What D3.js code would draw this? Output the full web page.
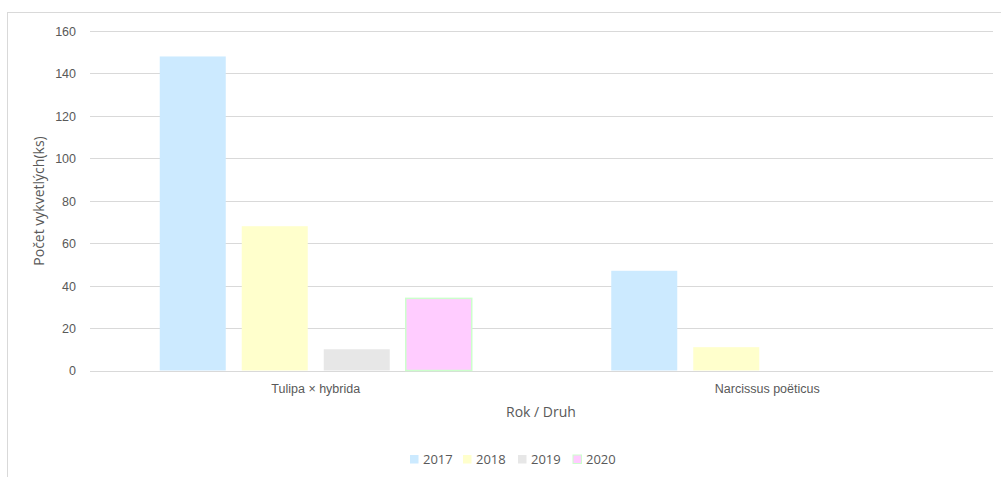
<!DOCTYPE html>
<html>
<head>
<meta charset="utf-8">
<script src="https://cdn.jsdelivr.net/npm/d3@7/dist/d3.min.js"></script>
<style>
  html, body { margin: 0; padding: 0; background: #fff; }
  svg { display: block; font-family: "Open Sans", "Liberation Sans", sans-serif; }
</style>
</head>
<body>
<svg id="chart" width="1001" height="477"></svg>
<script>
// Počet vykvetlých květin podle druhu a roku
const categories = ["Tulipa × hybrida", "Narcissus poëticus"];
const years = ["2017", "2018", "2019", "2020"];
const values2017 = [148, 47];
const values2018 = [68, 11];
const values2019 = [10, 0];
const values2020 = [34, 0];
const yTicks = [0, 20, 40, 60, 80, 100, 120, 140, 160];

const seriesValues = [values2017, values2018, values2019, values2020];
const fills = ["#cceaff", "#ffffcc", "#e7e7e7", "#ffccff"];
const strokes = ["none", "none", "none", "#ccffcc"];

const svg = d3.select("#chart");
const plot = { left: 90, right: 993, top: 31, bottom: 370.5 };

// chart frame
svg.append("rect")
  .attr("x", 7.5).attr("y", 12.5)
  .attr("width", 1000).attr("height", 470)
  .attr("fill", "#fff").attr("stroke", "#d9d9d9").attr("stroke-width", 1);

const y = d3.scaleLinear().domain([0, 160]).range([plot.bottom, plot.top]);
const x0 = d3.scaleBand().domain(categories).range([plot.left, plot.right]).padding(0);
const groupPad = 69.75;
const x1 = d3.scaleBand().domain(years)
  .range([groupPad, x0.bandwidth() - groupPad])
  .paddingInner(0.195).paddingOuter(0);

// gridlines
svg.append("g")
  .selectAll("line").data(yTicks).join("line")
  .attr("x1", plot.left).attr("x2", plot.right)
  .attr("y1", d => Math.round(y(d)) + 0.5).attr("y2", d => Math.round(y(d)) + 0.5)
  .attr("stroke", "#d9d9d9").attr("stroke-width", 1);

// y tick labels
const yAxis = d3.axisLeft(y).tickValues(yTicks).tickSize(0).tickPadding(0);
const yg = svg.append("g").attr("transform", "translate(76,0)").call(yAxis);
yg.select(".domain").remove();
yg.selectAll("text").attr("fill", "#595959").attr("font-size", 12.5)
  .attr("dy", "0.35em");

// bars
const groups = svg.append("g").selectAll("g").data(categories).join("g")
  .attr("transform", d => `translate(${x0(d)},0)`);
groups.selectAll("rect")
  .data((c, ci) => years.map((yr, si) => ({ yr, si, v: seriesValues[si][ci] })).filter(d => d.v > 0))
  .join("rect")
  .attr("x", d => x1(d.yr))
  .attr("y", d => y(d.v))
  .attr("width", x1.bandwidth())
  .attr("height", d => y(0) - y(d.v))
  .attr("fill", d => fills[d.si])
  .attr("stroke", d => strokes[d.si])
  .attr("stroke-width", 1.5);

// x category labels
const xAxis = d3.axisBottom(x0).tickSize(0).tickPadding(0);
const xg = svg.append("g").attr("transform", `translate(0,384)`).call(xAxis);
xg.select(".domain").remove();
xg.selectAll("text").attr("fill", "#595959").attr("font-size", 12.5).attr("dy", "0.71em");

// axis titles
svg.append("text")
  .attr("x", 541).attr("y", 417)
  .attr("text-anchor", "middle").attr("font-size", 14).attr("fill", "#595959")
  .text("Rok / Druh");
svg.append("text")
  .attr("transform", "translate(44,201) rotate(-90)")
  .attr("text-anchor", "middle").attr("font-size", 14).attr("fill", "#595959")
  .text("Počet vykvetlých(ks)");

// legend
const legendX = [410, 463, 518, 573];
const legend = svg.append("g").selectAll("g").data(years).join("g")
  .attr("transform", (d, i) => `translate(${legendX[i]},455)`);
legend.append("rect")
  .attr("width", 8.5).attr("height", 8.5)
  .attr("fill", (d, i) => fills[i])
  .attr("stroke", (d, i) => strokes[i]).attr("stroke-width", 1);
legend.append("text")
  .attr("x", 13).attr("y", 4.5).attr("dy", "0.35em")
  .attr("font-size", 13).attr("fill", "#595959")
  .text(d => d);
</script>
</body>
</html>
